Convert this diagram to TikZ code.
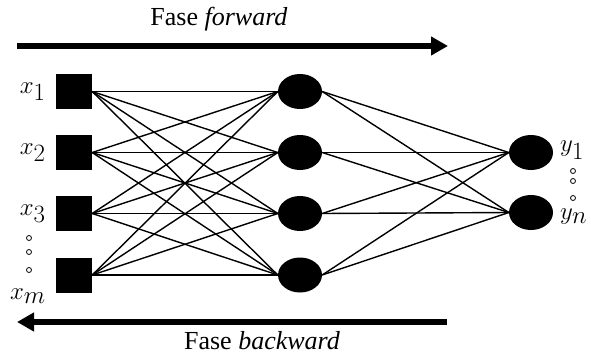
\documentclass[tikz,border=0pt]{standalone}
\usepackage{fontspec}
\setmainfont{Liberation Serif}
\newfontfamily\phasefont{Liberation Serif}
\usetikzlibrary{positioning,arrows.meta,shapes.geometric}

\begin{document}
\begin{tikzpicture}[x=1pt,y=-1pt]
      \tikzset{InputStyle/.style = {fill, minimum width = 36pt, minimum height = 35pt, inner sep = 0pt}}
      \tikzset{NeuronStyle/.style = {ellipse, fill, minimum width = 44pt, minimum height = 35pt, inner sep = 0pt}}
      \tikzset{EdgeStyle/.style = {line width = 1.4pt}}
      \tikzset{PhaseStyle/.style = {line width = 6pt, -{Triangle[length=17pt,width=18pt]}}}
      \tikzset{DotStyle/.style = {circle, draw, line width = 0.8pt, inner sep = 0pt, minimum size = 5pt}}
      \tikzset{LabelStyle/.style = {font = \fontsize{34}{36}\selectfont, inner sep = 0pt}}
      \tikzset{PhaseText/.style = {font = \phasefont\fontsize{26}{28}\selectfont, inner sep = 0pt}}

      \useasboundingbox (0,0) rectangle (591,356);

      \foreach \i/\y in {1/91.5, 2/152.5, 3/213.5, 4/275} {
        \node[InputStyle] (In\i) at (74,\y) {};
        \node[NeuronStyle] (H\i) at (300,\y) {};
      }
      \node[NeuronStyle] (Out1) at (531,152.5) {};
      \node[NeuronStyle] (Out2) at (531,212.5) {};

      \foreach \i in {1,...,4} {
        \foreach \j in {1,...,4}
          \draw[EdgeStyle] (In\i.east) -- (H\j.west);
        \foreach \k in {1,2}
          \draw[EdgeStyle] (H\i.east) -- (Out\k.west);
      }

      % labels
      \node[LabelStyle, anchor = east, left = 10pt of In1] (X1) {$x_1$};
      \node[LabelStyle, anchor = east, left = 10pt of In2] (X2) {$x_2$};
      \node[LabelStyle, anchor = east, left = 10pt of In3] (X3) {$x_3$};
      \node[LabelStyle, anchor = east] (Xm) at (46,296) {$x_m$};
      \node[LabelStyle, anchor = west] (Y1) at (560,150) {$y_1$};
      \node[LabelStyle, anchor = west] (Yn) at (560,217) {$y_n$};

      \foreach \y [count = \n] in {238, 252, 270}
        \node[DotStyle] (XDot\n) at (29,\y) {};
      \foreach \y [count = \n] in {171, 181, 198}
        \node[DotStyle] (YDot\n) at (573,\y) {};

      % training phases
      \coordinate (FwdStart) at (17,46);
      \coordinate (FwdEnd) at (448,46);
      \coordinate (BwdStart) at (447,322);
      \coordinate (BwdEnd) at (17,322);
      \draw[PhaseStyle] (FwdStart) -- (FwdEnd);
      \draw[PhaseStyle] (BwdStart) -- (BwdEnd);
      \node[PhaseText] (Fwd) at (219,19) {Fase \textit{forward}};
      \node[PhaseText] (Bwd) at (262,341) {Fase \textit{backward}};
\end{tikzpicture}
\end{document}
